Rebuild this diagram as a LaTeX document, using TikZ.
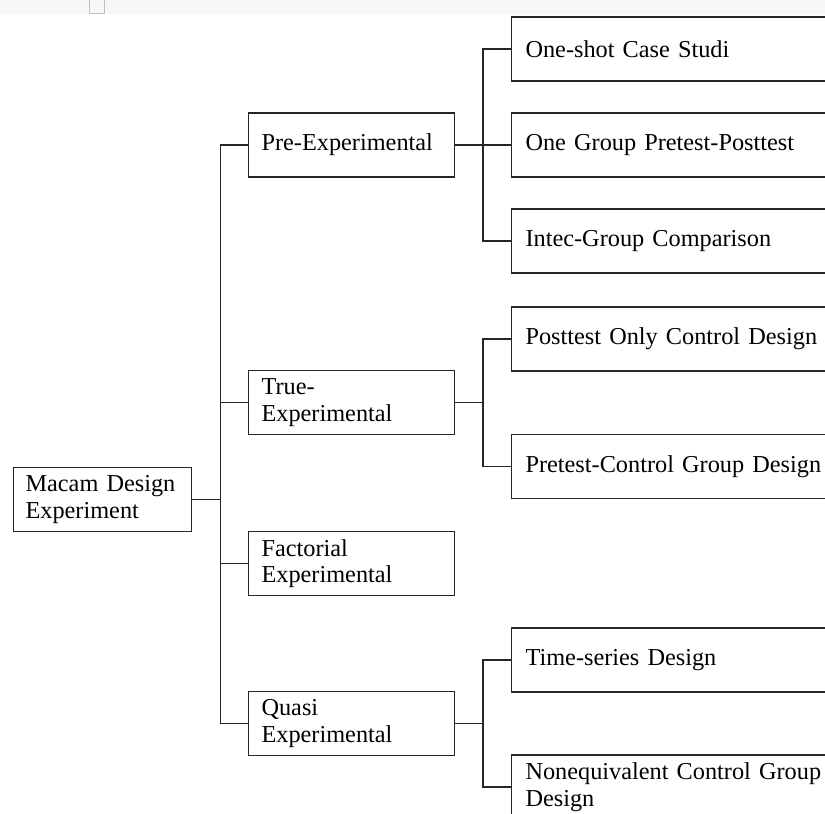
\documentclass[tikz,border=0pt]{standalone}
\usepackage{fontspec}
\setmainfont{Liberation Serif}
\tikzset{
  box/.style={draw=black!85,line width=1.1pt,anchor=west,align=left,
    minimum height=64pt,inner ysep=4pt,font=\fontsize{24.3}{26.5}\selectfont},
  leftbox/.style={box,inner xsep=13pt,text width=180pt},
  rightbox/.style={box,inner xsep=14pt,text width=320pt},
  link/.style={black!85,line width=1.1pt}
}
\begin{document}
\begin{tikzpicture}[x=1pt,y=-1pt]
\useasboundingbox (0,0) rectangle (825,814);
\clip (0,0) rectangle (825,814);
%faint strip at the top of the page
\fill[black!3] (0,0) rectangle (825,14);
\draw[black!25,line width=0.8pt] (89.5,0) -- (89.5,13) -- (104,13) -- (104,0);

%root and main branches
    \node[leftbox,text width=154pt,inner xsep=12pt] (macam) at (13,499.5) {Macam Design\\Experiment};
    \node[leftbox] (pre) at (248,145) {Pre-Experimental};
    \node[leftbox] (true) at (248,402.5) {True-\\Experimental};
    \node[leftbox] (fact) at (248,563.5) {Factorial\\Experimental};
    \node[leftbox] (quasi) at (248,723.5) {Quasi\\Experimental};

%designs of each branch
    \node[rightbox] (oneshot) at (511,49) {One-shot Case Studi};
    \node[rightbox] (onegroup) at (511,145) {One Group Pretest-Posttest};
    \node[rightbox] (intec) at (511,241) {Intec-Group Comparison};
    \node[rightbox] (posttest) at (511,339) {Posttest Only Control Design};
    \node[rightbox] (pretest) at (511,466.5) {Pretest-Control Group Design};
    \node[rightbox] (timeseries) at (511,660) {Time-series Design};
    \node[rightbox] (noneq) at (511,787) {Nonequivalent Control Group Design};

%connectors
    \coordinate (trunk) at (220.5,499.5);
    \draw[link] (macam.east) -- (trunk);
    \foreach \branch in {pre,true,fact,quasi}
        \draw[link] (trunk) |- (\branch.west);

    \coordinate (prejoin) at (483,145);
    \draw[link] (pre.east) -- (prejoin);
    \foreach \leaf in {oneshot,onegroup,intec}
        \draw[link] (prejoin) |- (\leaf.west);

    \coordinate (truejoin) at (483,402.5);
    \draw[link] (true.east) -- (truejoin);
    \foreach \leaf in {posttest,pretest}
        \draw[link] (truejoin) |- (\leaf.west);

    \coordinate (quasijoin) at (483,723.5);
    \draw[link] (quasi.east) -- (quasijoin);
    \foreach \leaf in {timeseries,noneq}
        \draw[link] (quasijoin) |- (\leaf.west);
\end{tikzpicture}
\end{document}
